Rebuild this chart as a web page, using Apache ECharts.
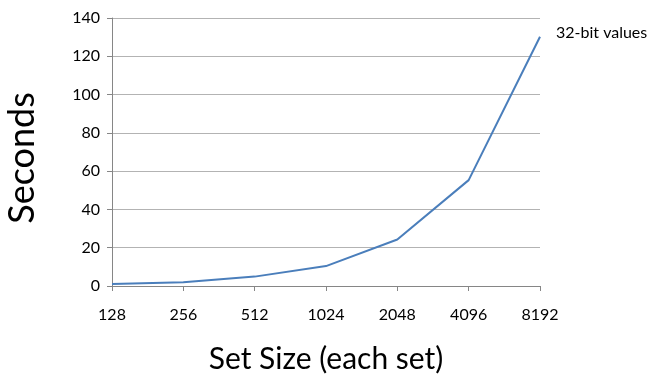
<!DOCTYPE html>
<html><head><meta charset="utf-8">
<script src="https://cdn.jsdelivr.net/npm/echarts@6/dist/echarts.min.js"></script>
<style>html,body{margin:0;padding:0;background:#fff}#c{width:648px;height:375px}</style>
</head><body><div id="c"></div>
<script>
const categories = ['128','256','512','1024','2048','4096','8192'];
const seriesName = '32-bit values';
const values = [1, 2, 4.9, 10.4, 24.3, 55.3, 130.2];
const yTicks = {min: 0, max: 140, interval: 20};
const font = 'Lato, "Open Sans", sans-serif';
const chart = echarts.init(document.getElementById('c'), null, {renderer: 'canvas'});
chart.setOption({
  animation: false,
  backgroundColor: '#fff',
  grid: {left: 112, right: 108, top: 18, bottom: 89, containLabel: false, outerBoundsMode: 'none'},
  legend: {
    data: [{name: seriesName, icon: 'none'}],
    left: 546, top: 20, itemWidth: 0, itemGap: 0,
    textStyle: {fontFamily: font, fontSize: 16, color: '#000'}
  },
  xAxis: {
    type: 'category', data: categories, boundaryGap: false,
    name: 'Set Size (each set)', nameLocation: 'middle', nameGap: 58,
    nameTextStyle: {fontFamily: font, fontSize: 30, color: '#000'},
    axisLine: {lineStyle: {color: '#868686', width: 1}},
    axisTick: {show: true, alignWithLabel: true, length: 5, lineStyle: {color: '#868686'}},
    axisLabel: {fontFamily: font, fontSize: 16, color: '#000', margin: 21}
  },
  yAxis: {
    type: 'value', min: yTicks.min, max: yTicks.max, interval: yTicks.interval,
    name: 'Seconds', nameLocation: 'middle', nameGap: 72, nameRotate: 90,
    nameTextStyle: {fontFamily: font, fontSize: 36, color: '#000', padding: [0, 12, 0, 0]},
    axisLine: {show: true, lineStyle: {color: '#868686', width: 1}},
    axisTick: {show: true, length: 5, inside: false, lineStyle: {color: '#868686'}},
    splitLine: {lineStyle: {color: '#b3b3b3', width: 1}},
    axisLabel: {fontFamily: font, fontSize: 16, color: '#000', margin: 12}
  },
  series: [{
    name: seriesName, type: 'line', data: values, symbol: 'none',
    lineStyle: {color: '#4a7ebb', width: 2}, itemStyle: {color: '#4a7ebb'}
  }]
});
</script></body></html>
